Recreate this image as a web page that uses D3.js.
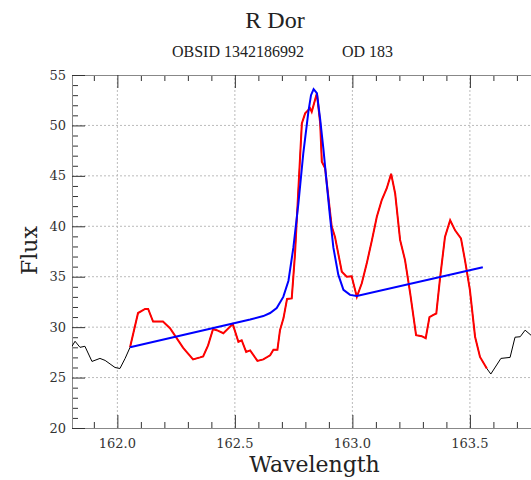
<!DOCTYPE html>
<html>
<head>
<meta charset="utf-8">
<script src="https://cdn.jsdelivr.net/npm/d3@7"></script>
<style>
  body { margin: 0; background: #fff; }
  svg { display: block; }
</style>
</head>
<body>
<figure id="chart" style="margin:0"></figure>
<script>
// spectrum (black line), red overlay is the fitted window
const wavelength = [161.807, 161.820, 161.841, 161.862, 161.892, 161.926, 161.948, 161.969, 161.990, 162.011,
  162.033, 162.054, 162.088, 162.118, 162.131, 162.152, 162.194, 162.224, 162.280, 162.322,
  162.352, 162.365, 162.386, 162.407, 162.423, 162.451, 162.491, 162.515, 162.529, 162.548,
  162.565, 162.596, 162.621, 162.650, 162.664, 162.681, 162.692, 162.707, 162.722, 162.742,
  162.756, 162.770, 162.785, 162.799, 162.820, 162.827, 162.849, 162.863, 162.870, 162.884,
  162.912, 162.926, 162.955, 162.976, 162.997, 163.019, 163.040, 163.061, 163.083, 163.104,
  163.125, 163.146, 163.165, 163.182, 163.203, 163.224, 163.246, 163.271, 163.295, 163.312,
  163.328, 163.343, 163.357, 163.373, 163.394, 163.416, 163.437, 163.462, 163.479, 163.500,
  163.522, 163.543, 163.572, 163.589, 163.632, 163.671, 163.692, 163.714, 163.735, 163.760];
const flux = [28.1, 28.6, 28.0, 28.1, 26.6, 26.9, 26.7, 26.35, 26.0, 25.9,
  26.9, 28.0, 31.4, 31.8, 31.8, 30.55, 30.55, 29.9, 27.95, 26.8,
  27.0, 27.1, 28.2, 29.8, 29.7, 29.4, 30.3, 28.55, 28.7, 27.55,
  27.7, 26.65, 26.8, 27.2, 27.75, 27.75, 29.7, 30.9, 32.8, 32.85,
  37.3, 43.6, 50.2, 51.2, 51.7, 51.35, 53.2, 50.2, 46.4, 45.75,
  40.0, 38.95, 35.5, 35.0, 35.05, 33.0, 34.35, 36.3, 38.6, 40.95,
  42.6, 43.75, 45.2, 43.25, 38.65, 36.65, 33.35, 29.2, 29.1, 28.9,
  31.0, 31.2, 31.35, 34.85, 38.95, 40.6, 39.6, 38.8, 36.65, 33.7,
  29.05, 27.05, 25.9, 25.35, 26.9, 27.0, 29.0, 29.05, 29.7, 29.2];
const fitWindow = [162.054, 163.572];

// line fit (blue)
const fitWave = [162.054, 162.565, 162.621, 162.650, 162.678, 162.706, 162.728, 162.749, 162.770, 162.791,
  162.813, 162.824, 162.835, 162.849, 162.863, 162.877, 162.891, 162.905, 162.919, 162.940,
  162.962, 162.990, 163.019, 163.555];
const fitFlux = [28.0, 30.75, 31.1, 31.4, 31.9, 33.0, 34.6, 37.9, 42.2, 47.2,
  51.4, 53.0, 53.6, 53.2, 50.6, 47.6, 44.2, 40.9, 37.9, 35.2,
  33.7, 33.2, 33.1, 35.93];

const xMajor = [162.0, 162.5, 163.0, 163.5];
const yMajor = [20, 25, 30, 35, 40, 45, 50, 55];

const width = 531, height = 480;
const margin = { top: 75, right: 0, bottom: 52, left: 72 };
const titleFont = "'Liberation Serif', 'Times New Roman', Times, serif";
const axisFont = "'DejaVu Serif', serif";

const svg = d3.select("#chart").append("svg")
  .attr("width", width)
  .attr("height", height);

const x = d3.scaleLinear().domain([161.807, 163.76]).range([margin.left, width - margin.right]);
const y = d3.scaleLinear().domain([20, 55]).range([height - margin.bottom, margin.top]);

const xMinor = d3.range(161.9, 163.75, 0.1).filter(v => !xMajor.some(m => Math.abs(m - v) < 1e-6));
const yMinor = d3.range(21, 55, 1).filter(v => v % 5 !== 0);

// grid
svg.append("g").selectAll("line").data(xMajor).join("line")
  .attr("x1", d => x(d)).attr("x2", d => x(d))
  .attr("y1", y(20)).attr("y2", y(55))
  .attr("stroke", "#bbb").attr("stroke-dasharray", "2,2");
svg.append("g").selectAll("line").data(yMajor.slice(1, -1)).join("line")
  .attr("x1", x.range()[0]).attr("x2", x.range()[1])
  .attr("y1", d => y(d)).attr("y2", d => y(d))
  .attr("stroke", "#bbb").attr("stroke-dasharray", "2,2");

// axes
const axisBottomG = svg.append("g").attr("transform", "translate(0," + y(20) + ")");
axisBottomG.append("g").call(d3.axisTop(x).tickValues(xMinor).tickSize(6).tickFormat(""));
axisBottomG.append("g").call(d3.axisTop(x).tickValues(xMajor).tickSize(13).tickFormat(""));
axisBottomG.append("g").selectAll("text").data(xMajor).join("text")
  .attr("x", d => x(d)).attr("y", 20)
  .attr("text-anchor", "middle")
  .style("font-family", axisFont).style("font-size", "13px").attr("fill", "#333")
  .text(d3.format(".1f"));

const axisTopG = svg.append("g").attr("transform", "translate(0," + y(55) + ")");
axisTopG.append("g").call(d3.axisBottom(x).tickValues(xMinor).tickSize(6).tickFormat(""));
axisTopG.append("g").call(d3.axisBottom(x).tickValues(xMajor).tickSize(13).tickFormat(""));

const axisLeftG = svg.append("g").attr("transform", "translate(" + x.range()[0] + ",0)");
axisLeftG.append("g").call(d3.axisRight(y).tickValues(yMinor).tickSize(6).tickFormat(""));
axisLeftG.append("g").call(d3.axisRight(y).tickValues(yMajor).tickSize(13).tickFormat(""));
axisLeftG.append("g").selectAll("text").data(yMajor).join("text")
  .attr("x", -6).attr("y", d => y(d)).attr("dy", "0.35em")
  .attr("text-anchor", "end")
  .style("font-family", axisFont).style("font-size", "13px").attr("fill", "#333")
  .text(d => d);

svg.selectAll(".domain").attr("stroke", "#888");
svg.selectAll(".tick line").attr("stroke", "#333");

// data lines
svg.append("clipPath").attr("id", "clip").append("rect")
  .attr("x", margin.left).attr("y", margin.top)
  .attr("width", width - margin.left - margin.right)
  .attr("height", height - margin.top - margin.bottom);

const spectrum = wavelength.map((w, i) => [w, flux[i]]);
const fit = fitWave.map((w, i) => [w, fitFlux[i]]);
const line = d3.line().x(d => x(d[0])).y(d => y(d[1]));
const plot = svg.append("g").attr("clip-path", "url(#clip)");

plot.append("path").datum(spectrum)
  .attr("fill", "none").attr("stroke", "#000").attr("stroke-width", 1)
  .attr("d", line);
plot.append("path").datum(spectrum.filter(d => d[0] >= fitWindow[0] && d[0] <= fitWindow[1]))
  .attr("fill", "none").attr("stroke", "#ff0000").attr("stroke-width", 2)
  .attr("d", line);
plot.append("path").datum(fit)
  .attr("fill", "none").attr("stroke", "#0000ff").attr("stroke-width", 2)
  .attr("d", line);

// titles
svg.append("text").attr("x", 275).attr("y", 28)
  .attr("text-anchor", "middle")
  .style("font-family", titleFont).style("font-size", "24px").attr("fill", "#222")
  .text("R Dor");
svg.append("text").attr("x", 304).attr("y", 57)
  .attr("text-anchor", "end")
  .style("font-family", titleFont).style("font-size", "16px").attr("fill", "#222")
  .text("OBSID 1342186992");
svg.append("text").attr("x", 342).attr("y", 57)
  .style("font-family", titleFont).style("font-size", "16px").attr("fill", "#222")
  .text("OD 183");

svg.append("text").attr("x", (x.range()[0] + x.range()[1]) / 2 + 13).attr("y", 472)
  .attr("text-anchor", "middle")
  .style("font-family", axisFont).style("font-size", "22px").attr("fill", "#222")
  .text("Wavelength");
svg.append("text")
  .attr("transform", "translate(37," + (y(37.5) - 1) + ") rotate(-90)")
  .attr("text-anchor", "middle")
  .style("font-family", axisFont).style("font-size", "22px").attr("fill", "#222")
  .text("Flux");
</script>
</body>
</html>
